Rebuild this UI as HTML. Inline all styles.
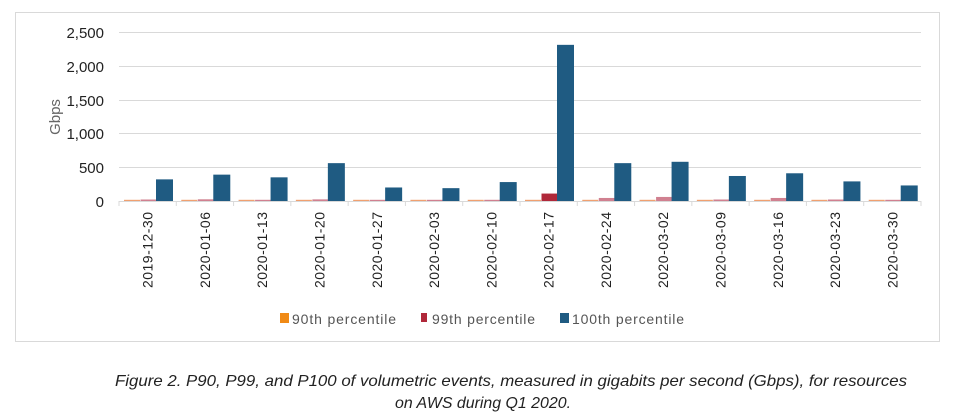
<!DOCTYPE html>
<html><head><meta charset="utf-8"><style>
body{margin:0;background:#fff;width:960px;height:420px;overflow:hidden}
svg{display:block}
text{font-family:"Liberation Sans",sans-serif}
</style></head><body>
<svg width="960" height="420" viewBox="0 0 960 420">
<rect x="15.5" y="12.5" width="924" height="329" fill="#fff" stroke="#d9d9d9" stroke-width="1"/>
<g stroke="#d9d9d9" stroke-width="1">
<line x1="119" y1="32.5" x2="921" y2="32.5"/>
<line x1="119" y1="66.5" x2="921" y2="66.5"/>
<line x1="119" y1="100.5" x2="921" y2="100.5"/>
<line x1="119" y1="133.5" x2="921" y2="133.5"/>
<line x1="119" y1="167.5" x2="921" y2="167.5"/>
<line x1="119" y1="201.5" x2="921" y2="201.5"/>
</g>
<g font-size="15" fill="#222" text-anchor="end">
<text x="104" y="38">2,500</text>
<text x="104" y="72">2,000</text>
<text x="104" y="106">1,500</text>
<text x="104" y="139">1,000</text>
<text x="104" y="173">500</text>
<text x="104" y="207">0</text>
</g>
<text transform="translate(60,117) rotate(-90)" font-size="15" fill="#666" text-anchor="middle">Gbps</text>
<g id="bars"></g>
<g id="labels" font-size="14" fill="#222"></g>
<g font-size="14" fill="#555">
<rect x="280" y="313" width="9" height="10" fill="#f08a16"/>
<text x="292" y="324" textLength="104">90th percentile</text>
<rect x="421" y="313" width="6" height="9" fill="#b0283a"/>
<text x="432" y="324" textLength="103">99th percentile</text>
<rect x="560" y="313" width="9" height="10" fill="#1f5b82"/>
<text x="572" y="324" textLength="112">100th percentile</text>
</g>
<g font-size="16" font-style="italic" fill="#222" text-anchor="middle">
<text x="511" y="386" textLength="792" lengthAdjust="spacingAndGlyphs">Figure 2. P90, P99, and P100 of volumetric events, measured in gigabits per second (Gbps), for resources</text>
<text x="483" y="408" textLength="176" lengthAdjust="spacingAndGlyphs">on AWS during Q1 2020.</text>
</g>
<script>
var d=["2019-12-30","2020-01-06","2020-01-13","2020-01-20","2020-01-27","2020-02-03","2020-02-10","2020-02-17","2020-02-24","2020-03-02","2020-03-09","2020-03-16","2020-03-23","2020-03-30"];
var p100=[320,390,350,560,200,190,280,2310,560,580,370,410,290,230];
var p99=[22,25,15,24,12,12,15,110,45,60,22,45,22,10];
var p90=[5,5,5,5,5,5,5,5,5,5,5,5,5,5];
var ns="http://www.w3.org/2000/svg",b=document.getElementById("bars"),l=document.getElementById("labels");
var x0=119,w=(921-x0)/14,base=201,k=169/2500;
function r(x,y,ww,h,c){var e=document.createElementNS(ns,"rect");e.setAttribute("x",x);e.setAttribute("y",y);e.setAttribute("width",ww);e.setAttribute("height",h);e.setAttribute("fill",c);b.appendChild(e);}
for(var i=0;i<14;i++){var s=x0+i*w;
var h3=p90[i]*k;r(s+5,base-Math.max(h3,1.2),16,Math.max(h3,1.2),"#f0a070");
var h2=p99[i]*k;r(s+21.5,base-Math.max(h2,1.2),16,Math.max(h2,1.2),i==7?"#b0283a":"#d08090");
var h1=p100[i]*k;r(s+37,base-h1,17,h1,"#1f5b82");
var t=document.createElementNS(ns,"line");t.setAttribute("x1",s+w);t.setAttribute("x2",s+w);t.setAttribute("y1",201);t.setAttribute("y2",206);t.setAttribute("stroke","#d9d9d9");b.appendChild(t);
var tx=document.createElementNS(ns,"text");var cx=s+w/2+5;
tx.setAttribute("transform","translate("+cx+",288) rotate(-90)");tx.setAttribute("textLength","76");tx.textContent=d[i];l.appendChild(tx);}
var t0=document.createElementNS(ns,"line");t0.setAttribute("x1",x0);t0.setAttribute("x2",x0);t0.setAttribute("y1",201);t0.setAttribute("y2",206);t0.setAttribute("stroke","#d9d9d9");b.appendChild(t0);
</script>
</svg>
</body></html>
